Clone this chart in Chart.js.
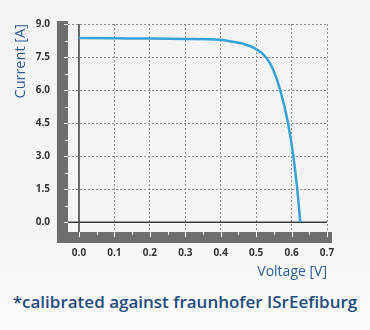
<!DOCTYPE html>
<html>
<head>
<meta charset="utf-8">
<script src="https://cdn.jsdelivr.net/npm/chart.js@4"></script>
<style>
  html, body { margin: 0; padding: 0; }
  body {
    width: 370px; height: 330px; overflow: hidden; position: relative;
    background: linear-gradient(#f3f3f3, #f5f5f5 70%, #fbfbfb);
  }
  #wrap { position: absolute; left: 0; top: 0; width: 370px; height: 285px; }
  #note {
    position: absolute; left: 0; top: 290px; width: 370px; text-align: center;
    font-family: "Open Sans", sans-serif; font-size: 17px; font-weight: 600;
    color: #1d4b7c; white-space: nowrap;
  }
</style>
</head>
<body>
<div id="wrap"><canvas id="ivChart" width="370" height="285"></canvas></div>
<div id="note">*calibrated against fraunhofer ISrEefiburg</div>
<script>
// I-V curve
const voltage = [0, 0.1, 0.2, 0.3, 0.397, 0.425, 0.463, 0.498, 0.527, 0.546, 0.568, 0.59, 0.605, 0.616, 0.6245];
const current = [8.36, 8.35, 8.34, 8.32, 8.29, 8.22, 8.10, 7.88, 7.5, 7.0, 6.0, 4.5, 3.0, 1.5, 0];

const xTicks = [0, 0.1, 0.2, 0.3, 0.4, 0.5, 0.6, 0.7];
const yTicks = [0, 1.5, 3.0, 4.5, 6.0, 7.5, 9.0];

const barColor = '#6e6e6e';
const tickFont = { family: 'Open Sans', size: 10, weight: '700' };

// gray frame bars with white ticks, plus the solid zero axes
const framePlugin = {
    id: 'frame',
    beforeDatasetsDraw(chart) {
        const { ctx, chartArea: a } = chart;
        const xs = chart.scales.x, ys = chart.scales.y;
        const bw = 11;
        ctx.save();
        ctx.fillStyle = barColor;
        ctx.fillRect(a.left - bw, a.top - 3, bw, a.bottom - a.top + 3 + bw);
        ctx.fillRect(a.left - bw, a.bottom, a.right - a.left + bw + 5, bw);

        ctx.strokeStyle = '#ffffff';
        ctx.lineWidth = 1;
        for (let v = 0; v <= 9.001; v += 0.75) {
            const y = Math.round(ys.getPixelForValue(v)) + 0.5;
            const major = Math.abs(v / 1.5 - Math.round(v / 1.5)) < 0.01;
            ctx.beginPath();
            ctx.moveTo(a.left - (major ? 4 : 3), y);
            ctx.lineTo(a.left, y);
            ctx.stroke();
        }
        for (let v = 0; v <= 0.7001; v += 0.05) {
            const x = Math.round(xs.getPixelForValue(v)) + 0.5;
            const major = Math.abs(v * 10 - Math.round(v * 10)) < 0.01;
            ctx.beginPath();
            ctx.moveTo(x, a.bottom);
            ctx.lineTo(x, a.bottom + (major ? 5 : 3));
            ctx.stroke();
        }

        ctx.strokeStyle = '#3c3c3c';
        ctx.lineWidth = 1.5;
        const x0 = xs.getPixelForValue(0), y0 = ys.getPixelForValue(0);
        ctx.beginPath();
        ctx.moveTo(x0, a.top);
        ctx.lineTo(x0, a.bottom);
        ctx.moveTo(a.left, y0);
        ctx.lineTo(a.right, y0);
        ctx.stroke();
        ctx.restore();
    }
};

const gridColor = c => (c.tick && c.tick.value === 0) ? 'rgba(0,0,0,0)' : '#8f8f8f';

new Chart(document.getElementById('ivChart').getContext('2d'), {
    type: 'line',
    data: {
        datasets: [{
            data: voltage.map((v, i) => ({ x: v, y: current[i] })),
            borderColor: '#38a2d6',
            borderWidth: 2.5,
            pointRadius: 0,
            cubicInterpolationMode: 'monotone',
            fill: false
        }]
    },
    options: {
        responsive: false,
        animation: false,
        layout: { padding: { top: 20, right: 43, bottom: 3, left: 0 } },
        plugins: { legend: { display: false }, tooltip: { enabled: false } },
        scales: {
            x: {
                type: 'linear',
                min: -0.031,
                max: 0.7,
                afterBuildTicks: s => { s.ticks = xTicks.map(v => ({ value: v })); },
                afterFit: s => { s.height = 50; },
                border: { display: false, dash: [2, 2] },
                grid: { color: gridColor, drawTicks: false, lineWidth: 1 },
                ticks: {
                    padding: 15, color: '#333333', font: tickFont,
                    maxRotation: 0, autoSkip: false,
                    callback: v => v.toFixed(1)
                },
                title: {
                    display: true, text: 'Voltage [V]', align: 'end',
                    color: '#2b5d92', font: { family: 'Open Sans', size: 14 },
                    padding: { top: 0, bottom: 2 }
                }
            },
            y: {
                min: -0.4455,
                max: 9.0,
                afterBuildTicks: s => { s.ticks = yTicks.map(v => ({ value: v })); },
                afterFit: s => { s.width = 68; },
                border: { display: false, dash: [2, 2] },
                grid: { color: gridColor, drawTicks: false, lineWidth: 1 },
                ticks: {
                    padding: 18, color: '#333333', font: tickFont,
                    autoSkip: false,
                    callback: v => v.toFixed(1)
                },
                title: {
                    display: true, text: 'Current [A]', align: 'end',
                    color: '#2b5d92', font: { family: 'Open Sans', size: 14.5 },
                    padding: { top: 12, bottom: 0 }
                }
            }
        }
    },
    plugins: [framePlugin]
});
</script>
</body>
</html>
